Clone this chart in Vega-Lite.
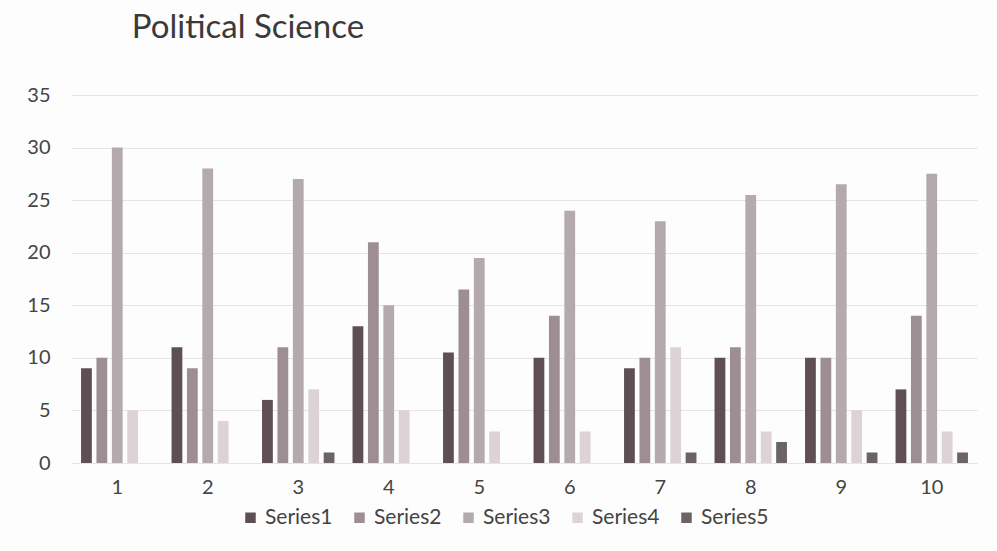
{
  "$schema": "https://vega.github.io/schema/vega-lite/v6.json",
  "autosize": "none",
  "width": 905,
  "height": 368,
  "padding": {"left": 72, "top": 95, "right": 20, "bottom": 88},
  "background": "#fdfdfd",
  "title": {"text": "Political Science", "anchor": "start", "dx": 105, "offset": 40, "fontSize": 33, "font": "Lato", "fontWeight": "normal", "color": "#3a3a3a"},
  "data": {"values": [
    {"g": "1", "s": "Series1", "v": 9}, {"g": "1", "s": "Series2", "v": 10}, {"g": "1", "s": "Series3", "v": 30}, {"g": "1", "s": "Series4", "v": 5}, {"g": "1", "s": "Series5", "v": 0},
    {"g": "2", "s": "Series1", "v": 11}, {"g": "2", "s": "Series2", "v": 9}, {"g": "2", "s": "Series3", "v": 28}, {"g": "2", "s": "Series4", "v": 4}, {"g": "2", "s": "Series5", "v": 0},
    {"g": "3", "s": "Series1", "v": 6}, {"g": "3", "s": "Series2", "v": 11}, {"g": "3", "s": "Series3", "v": 27}, {"g": "3", "s": "Series4", "v": 7}, {"g": "3", "s": "Series5", "v": 1},
    {"g": "4", "s": "Series1", "v": 13}, {"g": "4", "s": "Series2", "v": 21}, {"g": "4", "s": "Series3", "v": 15}, {"g": "4", "s": "Series4", "v": 5}, {"g": "4", "s": "Series5", "v": 0},
    {"g": "5", "s": "Series1", "v": 10.5}, {"g": "5", "s": "Series2", "v": 16.5}, {"g": "5", "s": "Series3", "v": 19.5}, {"g": "5", "s": "Series4", "v": 3}, {"g": "5", "s": "Series5", "v": 0},
    {"g": "6", "s": "Series1", "v": 10}, {"g": "6", "s": "Series2", "v": 14}, {"g": "6", "s": "Series3", "v": 24}, {"g": "6", "s": "Series4", "v": 3}, {"g": "6", "s": "Series5", "v": 0},
    {"g": "7", "s": "Series1", "v": 9}, {"g": "7", "s": "Series2", "v": 10}, {"g": "7", "s": "Series3", "v": 23}, {"g": "7", "s": "Series4", "v": 11}, {"g": "7", "s": "Series5", "v": 1},
    {"g": "8", "s": "Series1", "v": 10}, {"g": "8", "s": "Series2", "v": 11}, {"g": "8", "s": "Series3", "v": 25.5}, {"g": "8", "s": "Series4", "v": 3}, {"g": "8", "s": "Series5", "v": 2},
    {"g": "9", "s": "Series1", "v": 10}, {"g": "9", "s": "Series2", "v": 10}, {"g": "9", "s": "Series3", "v": 26.5}, {"g": "9", "s": "Series4", "v": 5}, {"g": "9", "s": "Series5", "v": 1},
    {"g": "10", "s": "Series1", "v": 7}, {"g": "10", "s": "Series2", "v": 14}, {"g": "10", "s": "Series3", "v": 27.5}, {"g": "10", "s": "Series4", "v": 3}, {"g": "10", "s": "Series5", "v": 1}
  ]},
  "mark": {"type": "bar"},
  "encoding": {
    "x": {"field": "g", "type": "ordinal", "sort": null, "title": null,
      "scale": {"paddingInner": 0.2, "paddingOuter": 0.1},
      "axis": {"labelAngle": 0, "domain": false, "ticks": false, "labelPadding": 14, "labelFontSize": 20, "labelFont": "Lato", "labelColor": "#444"}},
    "xOffset": {"field": "s", "type": "nominal", "scale": {"paddingInner": 0.3}},
    "y": {"field": "v", "type": "quantitative", "title": null,
      "scale": {"domain": [0, 35]},
      "axis": {"values": [0, 5, 10, 15, 20, 25, 30, 35], "domain": false, "ticks": false, "labelPadding": 22, "labelFontSize": 20, "labelFont": "Lato", "labelColor": "#444", "gridColor": "#e4e4e4"}},
    "color": {"field": "s", "type": "nominal", "title": null,
      "scale": {"domain": ["Series1", "Series2", "Series3", "Series4", "Series5"], "range": ["#5e4f55", "#9c8e93", "#b4a9ad", "#ddd2d6", "#6c6367"]},
      "legend": {"orient": "none", "legendX": 168, "legendY": 412, "direction": "horizontal", "symbolType": "square", "symbolSize": 110, "labelFontSize": 21, "labelFont": "Lato", "labelColor": "#444", "columnPadding": 16}}
  },
  "config": {"view": {"stroke": null}}
}
